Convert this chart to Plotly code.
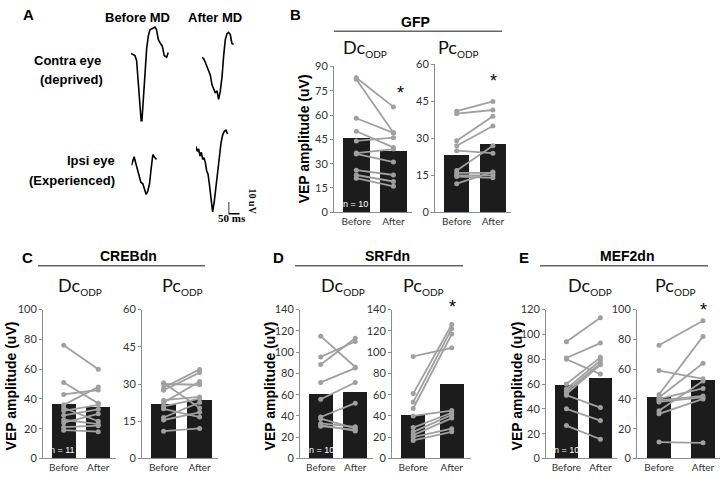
import plotly.graph_objects as go

W, H = 720, 481
groups = ["Before", "After"]

# ---- panel A waveforms (time in ms, amplitude in uV) ----
contra_before_t = [0, 10.5, 18, 25.5, 48, 71, 78.5, 86, 97, 109, 116, 124, 131.5, 142, 151, 162, 169]
contra_before_v = [0, -1.3, -1.9, -6.1, -62.5, 3.7, 14.7, 20.3, 21.7, 22.5, 20.3, 12, 9.2, 6.4, -1.9, -3.3, 0.8]
contra_after_t = [0, 7.7, 15, 22.7, 30.5, 38, 45.5, 53, 60.5, 68, 75.5, 83, 91, 98.5, 106, 113.6, 121, 128.6, 136, 143.6]
contra_after_v = [0, -1.3, -4.2, -8.3, -11.1, -15.3, -23.6, -27.8, -30.5, -28.6, -36.1, -29.2, -16.7, 1.4, 15.3, 20.3, 21.4, 19.4, 11.9, 11.1]
ipsi_before_t = [0, 6, 12, 18, 24, 30, 36.5, 42.5, 51.5, 57.5, 66.5, 74, 82, 89, 97, 103, 109, 113.6]
ipsi_before_v = [0, 5, 7.3, 2.8, -1.9, -4.7, -10.3, -14.5, -15.8, -20, -25, -22.2, -15.8, -3.3, 9.2, 7.3, 5.6, 5]
ipsi_after_t = [0, 6, 12, 18, 24, 30.5, 36.5, 42.5, 48.5, 54.5, 60.5, 68, 75.5, 83, 91, 98.5, 106, 113.6, 121, 128.6, 136, 143.6]
ipsi_after_v = [0, -4.2, -2.2, -8.3, -5, -11.1, -9.7, -13.9, -20.8, -23.6, -31.9, -44.4, -56.1, -47.2, -34.7, -20.8, -8.3, 2.8, 9.7, 13, 13.9, 10.6]
scale_ms = 50
scale_uv = 10

# ---- VEP amplitudes (uV), one entry per animal ----
gfp_dc_before = [83, 82, 58, 50, 44, 36.5, 36, 26, 23, 21]
gfp_dc_after = [65, 49, 49, 40, 46, 39, 31, 23, 19, 16]
gfp_dc_mean = [45.8, 37.6]
gfp_pc_before = [41, 40, 29, 27, 25, 17, 16, 15, 14.5, 11.6]
gfp_pc_after = [45, 41.5, 39, 35, 24, 27, 16, 15, 14, 16.4]
gfp_pc_mean = [23.2, 27.4]

creb_dc_before = [76, 51, 43, 36, 34, 32, 29, 26, 24, 21, 19]
creb_dc_after = [60, 37, 46, 48, 25, 36, 33, 23, 30, 22, 18]
creb_dc_mean = [36.8, 34.8]
creb_pc_before = [30.5, 30, 28.5, 27.5, 23.5, 22.5, 21, 20, 16.5, 15.5, 11]
creb_pc_after = [20.3, 29.7, 35.9, 34.6, 24.8, 31, 24.1, 16.7, 22.6, 18.6, 12.1]
creb_pc_mean = [22, 23.8]

srf_dc_before = [115, 95.5, 88.3, 71.5, 55.7, 39, 37.4, 32.9, 31.3, 30.4]
srf_dc_after = [86, 110, 113, 85, 71.5, 52, 28.3, 29.8, 25.9, 26.8]
srf_dc_mean = [60.9, 63.3]
srf_pc_before = [96, 61, 53, 47, 40, 29, 25, 22, 20, 17]
srf_pc_after = [104, 126, 122, 117, 45, 43, 41, 38, 28, 25]
srf_pc_mean = [41.5, 70]

mef_dc_before = [94, 81, 80, 60, 56, 54, 52, 51, 40, 26.5]
mef_dc_after = [113.5, 93, 68, 81.5, 79, 76.5, 75.5, 41, 30.5, 15.5]
mef_dc_mean = [59.7, 65.3]
mef_pc_before = [76, 59, 43, 41, 40, 39, 38, 32, 30, 11]
mef_pc_after = [92.5, 53.5, 82, 64, 47, 42, 41, 52, 40, 10.5]
mef_pc_mean = [41.3, 53.3]


def fx(px):
    return px / W


def fy(py):
    return 1 - py / H


fig = go.Figure()
layout = {}
annotations = []
shapes = []
n_ax = [0]


def new_axes():
    n_ax[0] += 1
    i = n_ax[0]
    s = "" if i == 1 else str(i)
    return i, "x" + s, "y" + s, "xaxis" + s, "yaxis" + s


# panel A: each trace gets its own invisible axes with a common ms/uV scale
PX_MS = 0.22
PX_UV = 1.2


def wave(t, v, left, base):
    i, xr, yr, xa, ya = new_axes()
    layout[xa] = dict(domain=[fx(left), fx(left + 42)], range=[0, 42 / PX_MS], visible=False, anchor=yr)
    layout[ya] = dict(domain=[fy(base + 80), fy(base - 45)], range=[-80 / PX_UV, 45 / PX_UV], visible=False, anchor=xr)
    fig.add_trace(go.Scatter(x=t, y=v, xaxis=xr, yaxis=yr, mode="lines",
                             line=dict(color="black", width=1.6), showlegend=False, hoverinfo="skip"))


wave(contra_before_t, contra_before_v, 131, 47.7)
wave(contra_after_t, contra_after_v, 202, 51.7)
wave(ipsi_before_t, ipsi_before_v, 131.5, 162.7)
wave(ipsi_after_t, ipsi_after_v, 196, 143.3)
wave([0, 0, scale_ms], [scale_uv, 0, 0], 228.5, 212.5)


def bar_panel(before, after, mean, x0, x1, xr0, xr1, y0, ytop, ymax, dtick, bw):
    i, xr, yr, xa, ya = new_axes()
    layout[xa] = dict(domain=[fx(x0), fx(x1)], range=[xr0, xr1], anchor=yr, type="category",
                      showline=True, linecolor="#8c8c8c", linewidth=1, ticks="", showgrid=False,
                      zeroline=False, tickfont=dict(family="Lato", size=10, color="#333"))
    layout[ya] = dict(domain=[fy(y0), fy(ytop)], range=[0, ymax], anchor=xr, dtick=dtick,
                      showline=True, linecolor="#8c8c8c", linewidth=1, ticks="outside", ticklen=3,
                      tickcolor="#8c8c8c", showgrid=False, zeroline=False,
                      tickfont=dict(family="Lato", size=11, color="#333"))
    fig.add_trace(go.Bar(x=groups, y=mean, xaxis=xr, yaxis=yr, width=bw,
                         marker=dict(color="#1c1c1c", line=dict(width=0)), showlegend=False))
    for b, a in zip(before, after):
        fig.add_trace(go.Scatter(x=groups, y=[b, a], xaxis=xr, yaxis=yr, mode="lines+markers",
                                 line=dict(color="#a0a0a0", width=1.8),
                                 marker=dict(color="#a0a0a0", size=5), showlegend=False))


bar_panel(gfp_dc_before, gfp_dc_after, gfp_dc_mean, 334, 412, -0.6, 1.5, 211, 61, 90, 15, 0.72)
bar_panel(gfp_pc_before, gfp_pc_after, gfp_pc_mean, 435, 511, -0.6, 1.5, 211, 59, 60, 15, 0.7)
bar_panel(creb_dc_before, creb_dc_after, creb_dc_mean, 43, 115.5, -0.6, 1.5, 464, 311, 100, 20, 0.7)
bar_panel(creb_pc_before, creb_pc_after, creb_pc_mean, 142, 217.6, -0.6, 1.5, 464, 311, 60, 15, 0.7)
bar_panel(srf_dc_before, srf_dc_after, srf_dc_mean, 300, 372.5, -0.6, 1.5, 464, 311, 140, 20, 0.7)
bar_panel(srf_pc_before, srf_pc_after, srf_pc_mean, 392, 471, -0.55, 1.5, 464, 311, 140, 20, 0.62)
bar_panel(mef_dc_before, mef_dc_after, mef_dc_mean, 546, 617.4, -0.6, 1.5, 464, 311, 120, 20, 0.7)
bar_panel(mef_pc_before, mef_pc_after, mef_pc_mean, 637, 720, -0.5, 1.386, 464, 311, 100, 20, 0.56)


def text(s, px, py, size=13, bold=True, family="Liberation Sans", color="black", angle=0):
    annotations.append(dict(text=f"<b>{s}</b>" if bold else s, x=fx(px), y=fy(py),
                            xref="paper", yref="paper", showarrow=False, textangle=angle,
                            xanchor="center", yanchor="middle",
                            font=dict(family=family, size=size, color=color)))


# panel letters
for s, px, py in [("A", 28, 8), ("B", 295, 8), ("C", 27, 257), ("D", 278, 257), ("E", 524, 257)]:
    text(s, px, py, size=15)

# panel A labels
text("Before MD", 137, 11)
text("After MD", 215, 11)
text("Contra eye", 67, 55)
text("(deprived)", 71, 75)
text("Ipsi eye", 91, 158)
text("(Experienced)", 72, 178)
text("10 uV", 252, 200, size=10, family="Liberation Serif", angle=90)
text("50 ms", 232, 217, size=11, family="Liberation Serif")

# group headers and lines
for s, cx, cy, lx0, lx1, ly in [("GFP", 416, 15, 334, 502, 25),
                                ("CREBdn", 128, 256, 38, 205, 266),
                                ("SRFdn", 387, 256, 295, 463, 266),
                                ("MEF2dn", 627, 256, 540, 708, 266)]:
    text(s, cx, cy, size=14)
    shapes.append(dict(type="line", xref="paper", yref="paper", x0=fx(lx0), x1=fx(lx1),
                       y0=fy(ly), y1=fy(ly), line=dict(color="#666", width=1.5)))

# Dc / Pc labels
for s, px, py in [("Dc", 365, 42), ("Pc", 458, 42), ("Dc", 80, 287), ("Pc", 182, 287),
                  ("Dc", 343, 287), ("Pc", 423, 287), ("Dc", 590, 287), ("Pc", 675, 287)]:
    text(f"{s}<sub><span style='font-size:10px'>ODP</span></sub>", px, py, size=18,
         bold=False, family="Lato", color="#111")

# y-axis titles
for px, py in [(304, 136), (11, 390), (270, 390), (517, 390)]:
    text("VEP amplitude (uV)", px, py, size=14, angle=-90)

# n labels
for s, px, py in [("n = 10", 355, 202), ("n = 11", 63, 455), ("n = 10", 321, 455), ("n = 10", 566, 455)]:
    text(s, px, py, size=9, bold=False, family="Liberation Sans", color="white")

# significance marks
for px, py in [(400, 88), (493, 76), (452, 308), (703, 311)]:
    text("*", px, py, size=18, bold=False, family="Liberation Sans")

layout.update(width=W, height=H, margin=dict(l=0, r=0, t=0, b=0), plot_bgcolor="white",
              paper_bgcolor="white", annotations=annotations, shapes=shapes, showlegend=False,
              bargap=0)
fig.update_layout(**layout)
fig.write_html("out.html", config={"displayModeBar": False},
               post_script="document.body.style.margin='0';")
